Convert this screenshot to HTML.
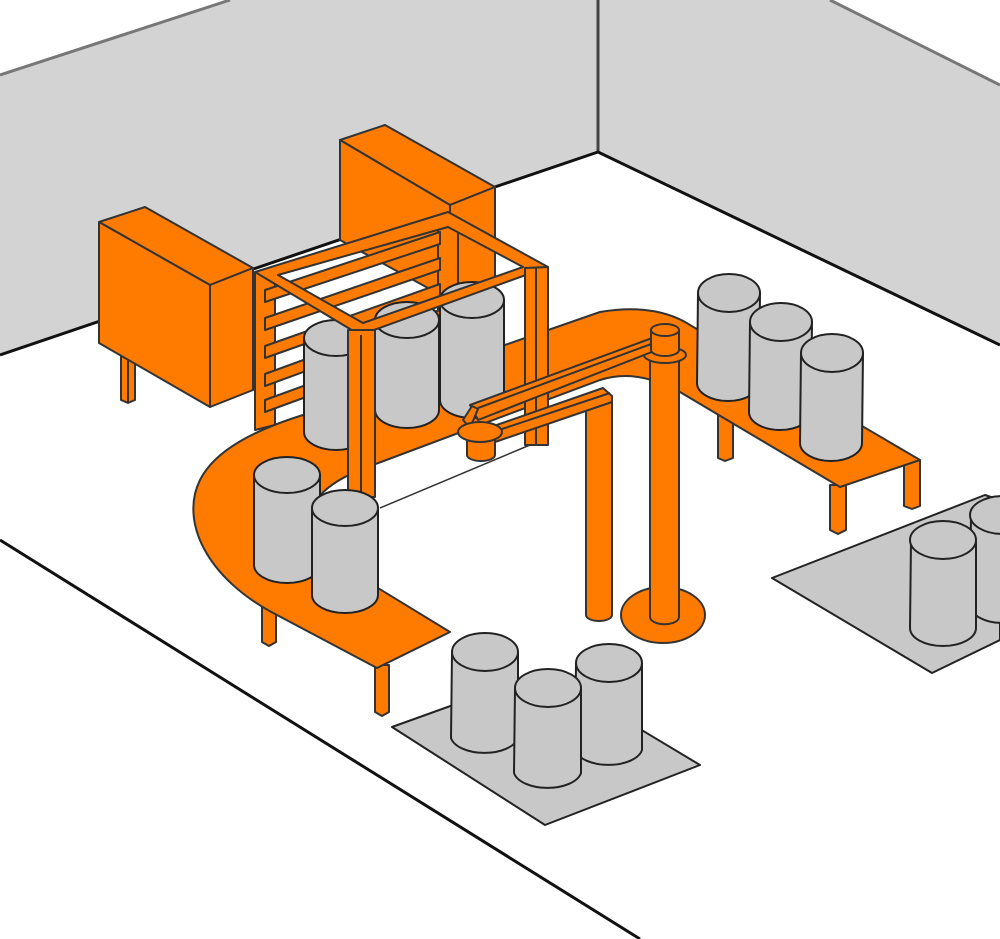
<!DOCTYPE html>
<html><head><meta charset="utf-8"><style>html,body{margin:0;padding:0;background:#fff}svg{display:block}</style></head>
<body>
<svg width="1000" height="939" viewBox="0 0 1000 939" xmlns="http://www.w3.org/2000/svg">
<g stroke-linejoin="round">
<!-- walls -->
<polygon points="0,75 230,0 598,0 598,152 0,355" fill="#d3d3d3"/>
<polygon points="598,0 830,0 1000,85 1000,345 598,152" fill="#d3d3d3"/>
<line x1="0" y1="75" x2="230" y2="0" stroke="#777" stroke-width="3"/>
<line x1="830" y1="0" x2="1000" y2="85" stroke="#777" stroke-width="3"/>
<line x1="598" y1="0" x2="598" y2="152" stroke="#444" stroke-width="3"/>
<polyline points="0,355 598,152 1000,345" fill="none" stroke="#111" stroke-width="3"/>
<line x1="0" y1="540" x2="640" y2="939" stroke="#111" stroke-width="3"/>

<!-- platforms -->
<polygon points="392,727 545,672 700,765 545,825" fill="#c8c8c8" stroke="#222" stroke-width="2"/>
<polygon points="772,578 985,495 1000,500 1000,640 932,673" fill="#c8c8c8" stroke="#222" stroke-width="2"/>

<!-- back cabinet -->
<g fill="#ff7b00" stroke="#333" stroke-width="2">
<polygon points="340,140 385,125 495,187 450,205"/>
<polygon points="340,140 450,205 450,300 340,240"/>
<polygon points="450,205 495,187 495,290 450,305"/>
<polygon points="121,350 135,350 135,400 128,403 121,400"/>
<line x1="128" y1="352" x2="128" y2="403"/>
<polygon points="99,222 145,207 253,268 210,285"/>
<polygon points="99,222 210,285 210,407 99,343"/>
<polygon points="210,285 253,268 253,390 210,407"/>
</g>

<!-- frame back posts + slats -->
<g fill="#ff7b00" stroke="#333" stroke-width="2">
<polygon points="438,218 458,218 458,420 438,420"/>
<polygon points="255,272 275,268 275,425 255,430"/>
<polygon points="265,290 440,232 440,244 265,302"/>
<polygon points="265,318 440,258 440,270 265,330"/>
<polygon points="265,346 440,284 440,296 265,358"/>
<polygon points="265,374 440,310 440,322 265,386"/>
<polygon points="265,400 440,336 440,348 265,412"/>
</g>

<!-- conveyor legs -->
<g fill="#ff7b00" stroke="#333" stroke-width="2">
<polygon points="262,595 276,595 276,642 269,646 262,642"/>
<polygon points="375,665 389,665 389,712 382,716 375,712"/>
<polygon points="718,415 733,415 733,458 725,461 718,458"/>
<polygon points="830,485 846,485 846,530 838,534 830,530"/>
<polygon points="904,460 920,460 920,506 912,509 904,506"/>
</g>

<!-- conveyor -->
<path d="M 600 312 C 640 305 670 312 690 325 L 920 460 L 840 487 L 680 392 C 650 376 625 372 600 380 L 373 465 C 330 480 305 500 310 530 C 315 560 340 575 373 585 L 450 632 L 377 668 L 277 615 C 205 578 180 520 200 480 C 215 450 255 430 303 415 Z" fill="#ff7b00" stroke="#333" stroke-width="2"/>
<line x1="380" y1="508" x2="530" y2="445" stroke="#333" stroke-width="1.5"/>

<!-- cylinders in frame -->
<g fill="#c8c8c8" stroke="#222" stroke-width="2">
<path d="M 440 300 L 440 400 A 32 18 0 0 0 504 400 L 504 300 Z"/><ellipse cx="472" cy="300" rx="32" ry="18"/>
<path d="M 375 320 L 375 410 A 32 18 0 0 0 439 410 L 439 320 Z"/><ellipse cx="407" cy="320" rx="32" ry="18"/>
<path d="M 304 338 L 304 432 A 32 18 0 0 0 368 432 L 368 338 Z"/><ellipse cx="336" cy="338" rx="32" ry="18"/>
</g>

<!-- frame front -->
<g fill="#ff7b00" stroke="#333" stroke-width="2">
<path d="M 255 272 L 448 212 L 548 267 L 360 335 Z M 278 275 L 448 227 L 523 267 L 363 323 Z" fill-rule="evenodd"/>
<polygon points="525,268 548,267 548,445 525,445"/>
<line x1="536" y1="268" x2="536" y2="445"/>
<polygon points="348,330 375,330 375,497 348,497"/>
<line x1="361" y1="335" x2="361" y2="497"/>
</g>

<!-- left conveyor cylinders -->
<g fill="#c8c8c8" stroke="#222" stroke-width="2">
<path d="M 254 475 L 254 565 A 33 18 0 0 0 320 565 L 320 475 Z"/><ellipse cx="287" cy="475" rx="33" ry="18"/>
<path d="M 312 508 L 312 595 A 33 18 0 0 0 378 595 L 378 508 Z"/><ellipse cx="345" cy="508" rx="33" ry="18"/>
</g>

<!-- robot -->
<g fill="#ff7b00" stroke="#333" stroke-width="2">
<path d="M 586 400 L 586 615 A 13 6 0 0 0 612 615 L 612 400 Z"/>
<polygon points="488,428 603,388 612,396 612,402 495,442"/>
<line x1="490" y1="433" x2="610" y2="393"/>
<ellipse cx="663" cy="615" rx="42" ry="28"/>
<path d="M 650 355 L 650 617 A 14 7 0 0 0 679 617 L 679 355 Z"/>
<ellipse cx="665" cy="355" rx="21" ry="8"/>
<polygon points="470,405 655,337 662,348 478,420"/>
<line x1="478" y1="408" x2="662" y2="340"/>
<polygon points="463,420 472,406 478,409 470,428"/>
<path d="M 467 438 L 467 455 A 14 6 0 0 0 495 455 L 495 438 Z"/>
<ellipse cx="480" cy="432" rx="22" ry="10"/>
<path d="M 651 330 L 651 350 A 14 6 0 0 0 679 350 L 679 330 Z"/>
<ellipse cx="665" cy="330" rx="14" ry="6"/>
</g>

<!-- right conveyor cylinders -->
<g fill="#c8c8c8" stroke="#222" stroke-width="2">
<path d="M 698 293 L 697 383 A 31 18 0 0 0 759 383 L 760 293 Z"/><ellipse cx="729" cy="293" rx="31" ry="19"/>
<path d="M 750 322 L 749 412 A 31 18 0 0 0 811 412 L 812 322 Z"/><ellipse cx="781" cy="322" rx="31" ry="19"/>
<path d="M 801 353 L 800 443 A 31 18 0 0 0 862 443 L 863 353 Z"/><ellipse cx="832" cy="353" rx="31" ry="19"/>
</g>

<!-- right platform cylinders -->
<g fill="#c8c8c8" stroke="#222" stroke-width="2">
<path d="M 971 515 L 970 605 A 33 18 0 0 0 1036 605 L 1036 515 Z"/><ellipse cx="1003" cy="515" rx="33" ry="19"/>
<path d="M 911 540 L 910 628 A 33 18 0 0 0 976 628 L 976 540 Z"/><ellipse cx="943" cy="540" rx="33" ry="19"/>
</g>

<!-- bottom platform cylinders -->
<g fill="#c8c8c8" stroke="#222" stroke-width="2">
<path d="M 452 652 L 451 738 A 34 18 0 0 0 518 738 L 518 652 Z"/><ellipse cx="485" cy="652" rx="33" ry="19"/>
<path d="M 576 663 L 575 750 A 34 18 0 0 0 642 750 L 642 663 Z"/><ellipse cx="609" cy="663" rx="33" ry="19"/>
<path d="M 515 688 L 514 773 A 34 18 0 0 0 581 773 L 581 688 Z"/><ellipse cx="548" cy="688" rx="33" ry="19"/>
</g>
</g>
</svg>
</body></html>
